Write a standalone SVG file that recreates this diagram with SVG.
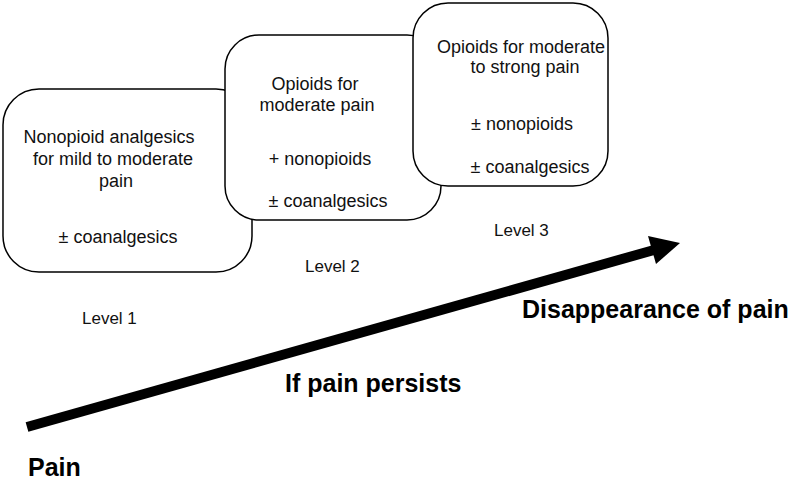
<svg xmlns="http://www.w3.org/2000/svg" width="793" height="484" viewBox="0 0 793 484">
<style>
.box{fill:#fff;stroke:#000;stroke-width:1.5}
.t{font-family:"Liberation Sans",Arial,sans-serif;font-size:18px;fill:#111;text-anchor:middle}
.lv{font-family:"Liberation Sans",Arial,sans-serif;font-size:17px;fill:#111}
.b{font-family:"Liberation Sans",Arial,sans-serif;font-size:25px;font-weight:bold;fill:#000}
</style>
<rect width="793" height="484" fill="#fff"/>
<g id="level1">
<rect class="box" x="3" y="89" width="249" height="183" rx="36" ry="36"/>
<text class="t" x="109" y="143">Nonopioid analgesics</text>
<text class="t" x="113" y="165">for mild to moderate</text>
<text class="t" x="116" y="187">pain</text>
<text class="t" x="118" y="243">± coanalgesics</text>
<text class="lv" x="82" y="324">Level 1</text>
</g>
<g id="level2">
<rect class="box" x="225" y="35" width="216" height="185" rx="34" ry="34"/>
<text class="t" x="315" y="90">Opioids for</text>
<text class="t" x="317" y="111">moderate pain</text>
<text class="t" x="320" y="165">+ nonopioids</text>
<text class="t" x="328" y="207">± coanalgesics</text>
<text class="lv" x="305" y="272">Level 2</text>
</g>
<g id="level3">
<rect class="box" x="413" y="3" width="195" height="183" rx="35" ry="35"/>
<text class="t" x="521" y="53">Opioids for moderate</text>
<text class="t" x="525" y="73">to strong pain</text>
<text class="t" x="522" y="130">± nonopioids</text>
<text class="t" x="530" y="173">± coanalgesics</text>
<text class="lv" x="494" y="236">Level 3</text>
</g>
<g id="connectors">
<line x1="27" y1="427" x2="654" y2="250" stroke="#000" stroke-width="10"/>
<polygon points="680,243 648,236 656,264" fill="#000"/>
</g>
<g id="labels">
<text class="b" x="522" y="318">Disappearance of pain</text>
<text class="b" x="285" y="392">If pain persists</text>
<text class="b" x="28" y="476">Pain</text>
</g>
</svg>
